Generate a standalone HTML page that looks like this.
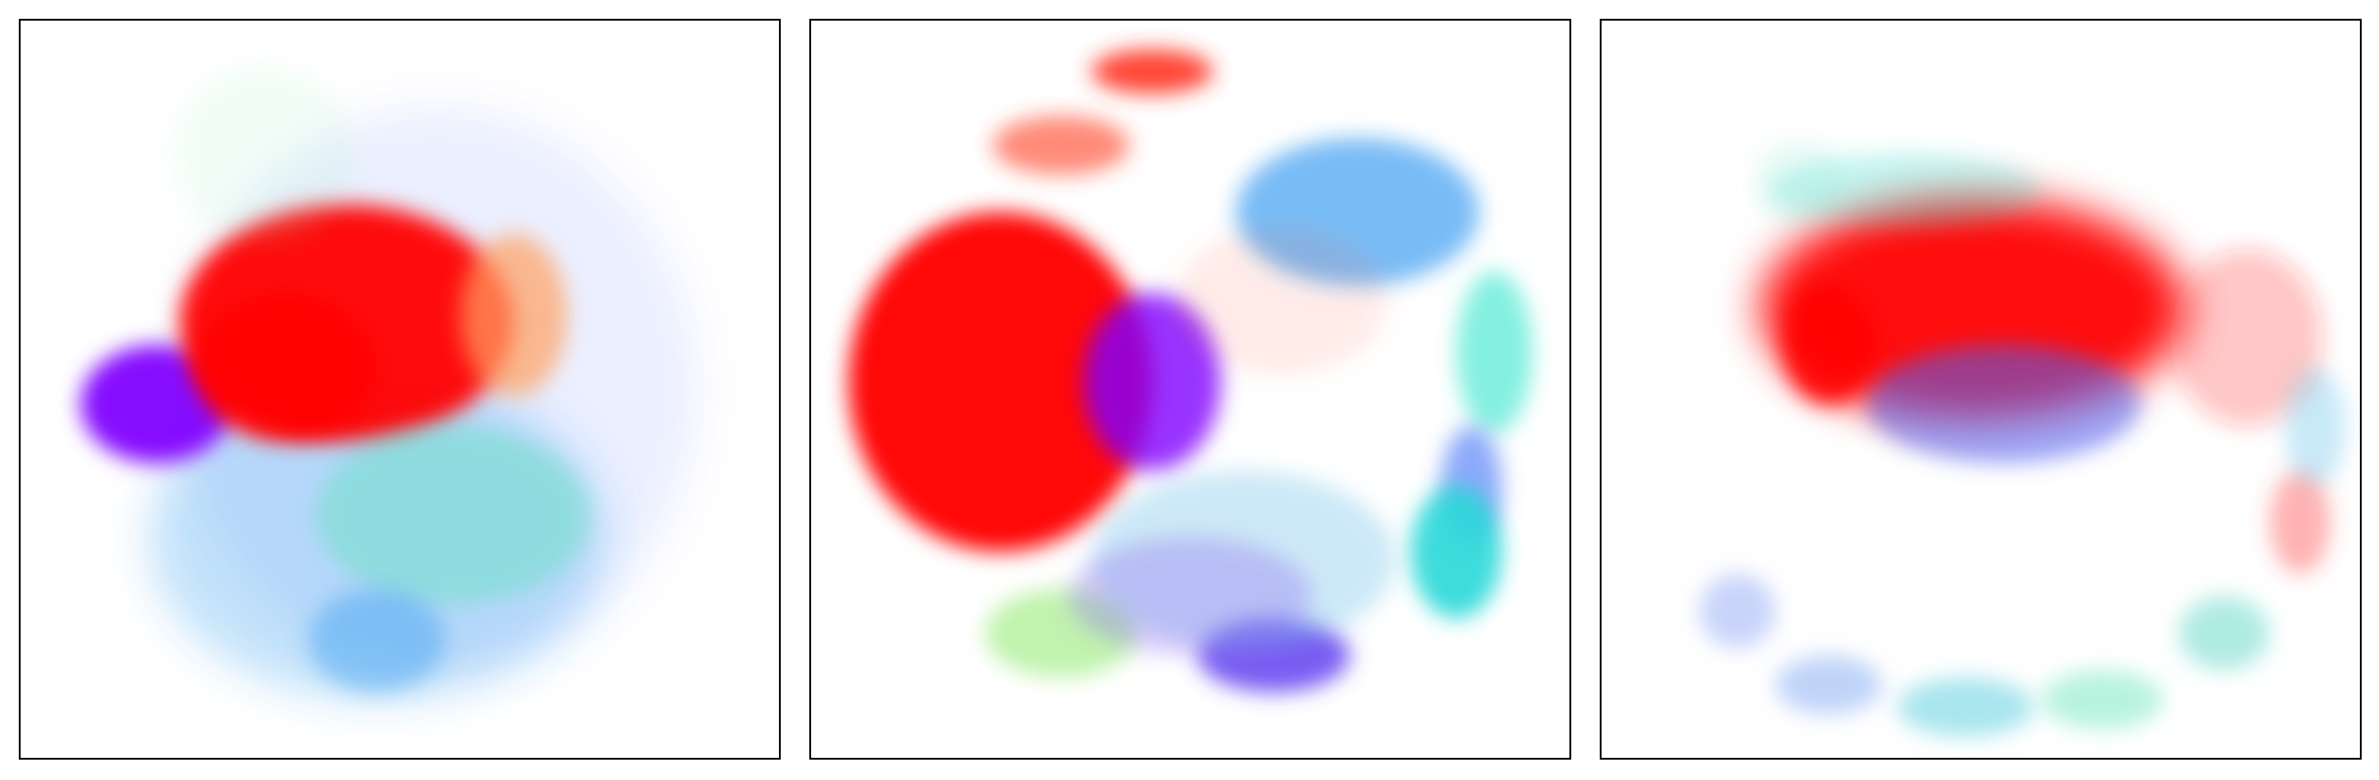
<!DOCTYPE html>
<html><head><meta charset="utf-8"><style>
html,body{margin:0;padding:0;background:#fff;}
svg{display:block;}
</style></head><body>
<svg id="chart" width="2379" height="780" viewBox="0 0 1568 514" preserveAspectRatio="none" xmlns="http://www.w3.org/2000/svg">
<defs>
<filter id="soft" x="-50%" y="-50%" width="200%" height="200%"><feGaussianBlur stdDeviation="7"/></filter>
<filter id="soft2" x="-50%" y="-50%" width="200%" height="200%"><feGaussianBlur stdDeviation="14"/></filter>
</defs>
<g id="panels"></g>
</svg>
<script>
// Panel extents (display units)
const panelX = [13, 534, 1055];
const panelNames = ['panel-left', 'panel-middle', 'panel-right'];
// Cluster data per panel: center x, center y (0-100 data units), spread x, spread y, color, density
const p1cx = [55, 47, 18, 43, 35, 65, 57, 47, 32];
const p1cy = [50, 70, 52, 41, 47, 40, 67, 84, 18];
const p1sx = [34, 30, 10, 22, 12, 7, 18, 9, 12];
const p1sy = [38, 22, 8, 16, 10, 11, 12, 7, 12];
const p1col = ['#4f7cff', '#3aa0f0', '#8000ff', '#ff0000', '#ff0000', '#ffa060', '#6fe0c8', '#3aa0f0', '#9af0c0'];
const p1op = [0.12, 0.3, 0.95, 0.95, 0.9, 0.7, 0.55, 0.45, 0.12];

const p2cx = [25, 45, 45, 33, 72, 90, 87, 85, 61, 33, 57, 62, 50];
const p2cy = [49, 49, 7, 17, 26, 45, 63, 72, 86, 83, 73, 38, 78];
const p2sx = [20, 9, 8, 9, 16, 5, 4, 6, 10, 10, 20, 14, 16];
const p2sy = [23, 12, 3, 4, 10, 11, 8, 9, 5, 6, 12, 10, 8];
const p2col = ['#ff0000', '#8000ff', '#ff3020', '#ff3a20', '#2090f0', '#40e8d0', '#4070f8', '#28d8d8', '#6040f0', '#b0f098', '#70c0e8', '#ff6040', '#9070f0'];
const p2op = [0.97, 0.8, 0.9, 0.6, 0.6, 0.65, 0.6, 0.9, 0.85, 0.8, 0.35, 0.12, 0.35];

const p3cx = [49, 53, 30, 85, 40, 18, 30, 48, 66, 82, 92, 94, 26];
const p3cy = [39, 52, 44, 43, 23, 80, 90, 93, 92, 83, 68, 55, 22];
const p3sx = [28, 18, 6, 10, 18, 5, 7, 9, 8, 6, 4, 4, 6];
const p3sy = [15, 8, 8, 12, 5, 5, 4, 4, 4, 5, 7, 8, 6];
const p3col = ['#ff0000', '#5060f0', '#ff0000', '#ff2020', '#40e0d0', '#6080f0', '#70a0f0', '#60d0e0', '#70e8c0', '#60d8c8', '#ff4040', '#60c0e8', '#80e0c0'];
const p3op = [0.95, 0.55, 0.9, 0.25, 0.3, 0.35, 0.45, 0.55, 0.5, 0.5, 0.4, 0.35, 0.15];

const panelData = [
  [p1cx, p1cy, p1sx, p1sy, p1col, p1op],
  [p2cx, p2cy, p2sx, p2sy, p2col, p2op],
  [p3cx, p3cy, p3sx, p3sy, p3col, p3op]
];
const NS = 'http://www.w3.org/2000/svg';
const topY = 13, panelH = 487, panelW = 501;
const root = document.getElementById('panels');
panelData.forEach((d, pi) => {
  const x0 = panelX[pi];
  const sx = v => x0 + v / 100 * panelW;
  const sy = v => topY + v / 100 * panelH;
  const sw = v => v / 100 * panelW;
  const sh = v => v / 100 * panelH;
  const g = document.createElementNS(NS, 'g');
  
  
  const clip = document.createElementNS(NS, 'clipPath');
  clip.setAttribute('id', 'clip' + pi);
  const cr = document.createElementNS(NS, 'rect');
  cr.setAttribute('x', x0); cr.setAttribute('y', topY); cr.setAttribute('width', panelW); cr.setAttribute('height', panelH);
  clip.appendChild(cr); g.appendChild(clip);
  const marks = document.createElementNS(NS, 'g');
  marks.setAttribute('clip-path', 'url(#clip' + pi + ')');
  
  
  const [cx, cy, rx, ry, col, op] = d;
  for (let i = 0; i < cx.length; i++) {
    const e = document.createElementNS(NS, 'ellipse');
    
    
    e.setAttribute('cx', sx(cx[i])); e.setAttribute('cy', sy(cy[i]));
    e.setAttribute('rx', sw(rx[i])); e.setAttribute('ry', sh(ry[i]));
    e.setAttribute('fill', col[i]); e.setAttribute('fill-opacity', op[i]);
    e.setAttribute('filter', rx[i] > 25 ? 'url(#soft2)' : 'url(#soft)');
    marks.appendChild(e);
  }
  g.appendChild(marks);
  const frame = document.createElementNS(NS, 'rect');
  
  
  frame.setAttribute('x', x0); frame.setAttribute('y', topY);
  frame.setAttribute('width', panelW); frame.setAttribute('height', panelH);
  frame.setAttribute('fill', 'none'); frame.setAttribute('stroke', '#000'); frame.setAttribute('stroke-width', '1.2');
  g.appendChild(frame);
  root.appendChild(g);
});
</script>
</body></html>
